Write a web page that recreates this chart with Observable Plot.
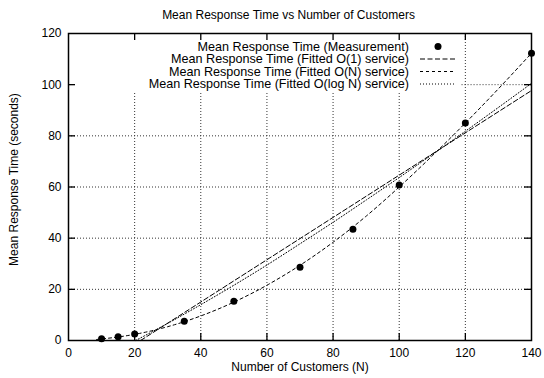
<!DOCTYPE html>
<html><head><meta charset="utf-8">
<script src="https://cdn.jsdelivr.net/npm/d3@7"></script>
<script src="https://cdn.jsdelivr.net/npm/@observablehq/plot@0.6"></script>
<style>body{margin:0;background:#fff}</style>
</head><body><div id="chart"></div>
<script>
const title = "Mean Response Time vs Number of Customers";
const xLabel = "Number of Customers (N)";
const yLabel = "Mean Response Time (seconds)";
const xTicks = [0, 20, 40, 60, 80, 100, 120, 140];
const yTicks = [0, 20, 40, 60, 80, 100, 120];
const xGrid = [20, 40, 60, 80, 100, 120];
const yGrid = [20, 40, 60, 80, 100];
// Measurement
const measN = [10, 15, 20, 35, 50, 70, 86, 100, 120, 140];
const measT = [0.7, 1.5, 2.5, 7.5, 15.3, 28.6, 43.5, 60.8, 85.0, 112.3];
// Fitted O(1) service
const o1N = [21.8, 140];
const o1T = [0, 97.7];
// Fitted O(N) service
const oNN = [8.5, 10, 20, 30, 40, 50, 60, 70, 80, 90, 100, 110, 120, 130, 140];
const oNT = [0.4, 0.6, 2.4, 5.4, 9.6, 15.0, 21.6, 29.4, 38.4, 48.6, 60.0, 72.2, 85.0, 98.4, 112.3];
// Fitted O(log N) service
const oLogN = [20.3, 30, 40, 50, 60, 70, 80, 90, 100, 110, 120, 130, 140];
const oLogT = [0, 6.7, 14.0, 21.6, 29.5, 37.8, 46.2, 54.9, 63.7, 72.7, 81.8, 91.1, 100.5];
const legendLabels = [
  "Mean Response Time (Measurement)",
  "Mean Response Time (Fitted O(1) service)",
  "Mean Response Time (Fitted O(N) service)",
  "Mean Response Time (Fitted O(log N) service)"
];
const legendDash = [null, "5,2.5", "3,3", "1,2"];

const meas = measN.map((n, i) => ({n, t: measT[i]}));
const o1 = o1N.map((n, i) => ({n, t: o1T[i]}));
const oN = oNN.map((n, i) => ({n, t: oNT[i]}));
const oLog = oLogN.map((n, i) => ({n, t: oLogT[i]}));

// key area (grid hidden behind it), in data units
const keyRight = 119, keyBottom = 97.3;
const FONT = "'Liberation Sans', Arial, Helvetica, sans-serif";

function legend(index, scales, values, dims) {
  const g = d3.create("svg:g").attr("font-family", FONT).attr("font-size", 12.6);
  const textRight = 409, s0 = 420, s1 = 456, y0 = 46.5, dy = 12.5;
  legendLabels.forEach((lab, i) => {
    const y = y0 + i * dy;
    g.append("text").attr("x", textRight).attr("y", y).attr("dy", "0.35em")
      .attr("text-anchor", "end").attr("fill", "black").text(lab);
    if (i === 0) {
      g.append("circle").attr("cx", (s0 + s1) / 2).attr("cy", y).attr("r", 3.5).attr("fill", "black");
    } else {
      g.append("line").attr("x1", s0).attr("x2", s1).attr("y1", y).attr("y2", y)
        .attr("stroke", "black").attr("stroke-width", 1).attr("stroke-dasharray", legendDash[i]);
    }
  });
  return g.node();
}

const chart = Plot.plot({
  width: 544, height: 378,
  marginLeft: 68, marginRight: 13, marginTop: 33, marginBottom: 38,
  style: {fontFamily: FONT, fontSize: "12px", background: "white", color: "black"},
  x: {domain: [0, 140]},
  y: {domain: [0, 120]},
  marks: [
    Plot.ruleX(xGrid, {x: d => d, y1: 0, y2: d => d < keyRight ? keyBottom : 120, stroke: "#333", strokeDasharray: "1,2", strokeWidth: 1}),
    Plot.ruleY(yGrid, {y: d => d, x1: d => d > keyBottom ? keyRight : 0, x2: 140, stroke: "#333", strokeDasharray: "1,2", strokeWidth: 1}),
    Plot.axisX(xTicks, {anchor: "bottom", tickSize: 0, tickPadding: 7.5, label: null, fontSize: 12}),
    Plot.axisY(yTicks, {anchor: "left", tickSize: 0, tickPadding: 7, label: null, fontSize: 12}),
    Plot.tickX(xTicks.slice(1, -1), {x: d => d, insetTop: 300, stroke: "black", strokeWidth: 1.3}),
    Plot.tickX(xTicks.slice(1, -1), {x: d => d, insetBottom: 300, stroke: "black", strokeWidth: 1.3}),
    Plot.tickY(yTicks.slice(1, -1), {y: d => d, insetRight: 456, stroke: "black", strokeWidth: 1.3}),
    Plot.tickY(yTicks.slice(1, -1), {y: d => d, insetLeft: 456, stroke: "black", strokeWidth: 1.3}),
    Plot.line(o1, {x: "n", y: "t", stroke: "black", strokeWidth: 1, strokeDasharray: legendDash[1]}),
    Plot.line(oN, {x: "n", y: "t", stroke: "black", strokeWidth: 1, strokeDasharray: legendDash[2], curve: "monotone-x"}),
    Plot.line(oLog, {x: "n", y: "t", stroke: "black", strokeWidth: 1, strokeDasharray: legendDash[3], curve: "monotone-x"}),
    Plot.dot(meas, {x: "n", y: "t", r: 3.5, fill: "black", stroke: null}),
    Plot.frame({stroke: "black", strokeWidth: 1.5}),
    Plot.text([title], {frameAnchor: "top-left", dx: 220, dy: -18, textAnchor: "middle", lineAnchor: "middle", fontSize: 12, fill: "black"}),
    Plot.text([xLabel], {frameAnchor: "bottom", dx: 0, dy: 26.5, textAnchor: "middle", lineAnchor: "middle", fontSize: 12, fill: "black"}),
    Plot.text([yLabel], {frameAnchor: "left", dx: -54, dy: -7.5, rotate: -90, textAnchor: "middle", lineAnchor: "middle", fontSize: 12, fill: "black"}),
    legend
  ]
});
document.getElementById("chart").appendChild(chart);
</script>
</body></html>
